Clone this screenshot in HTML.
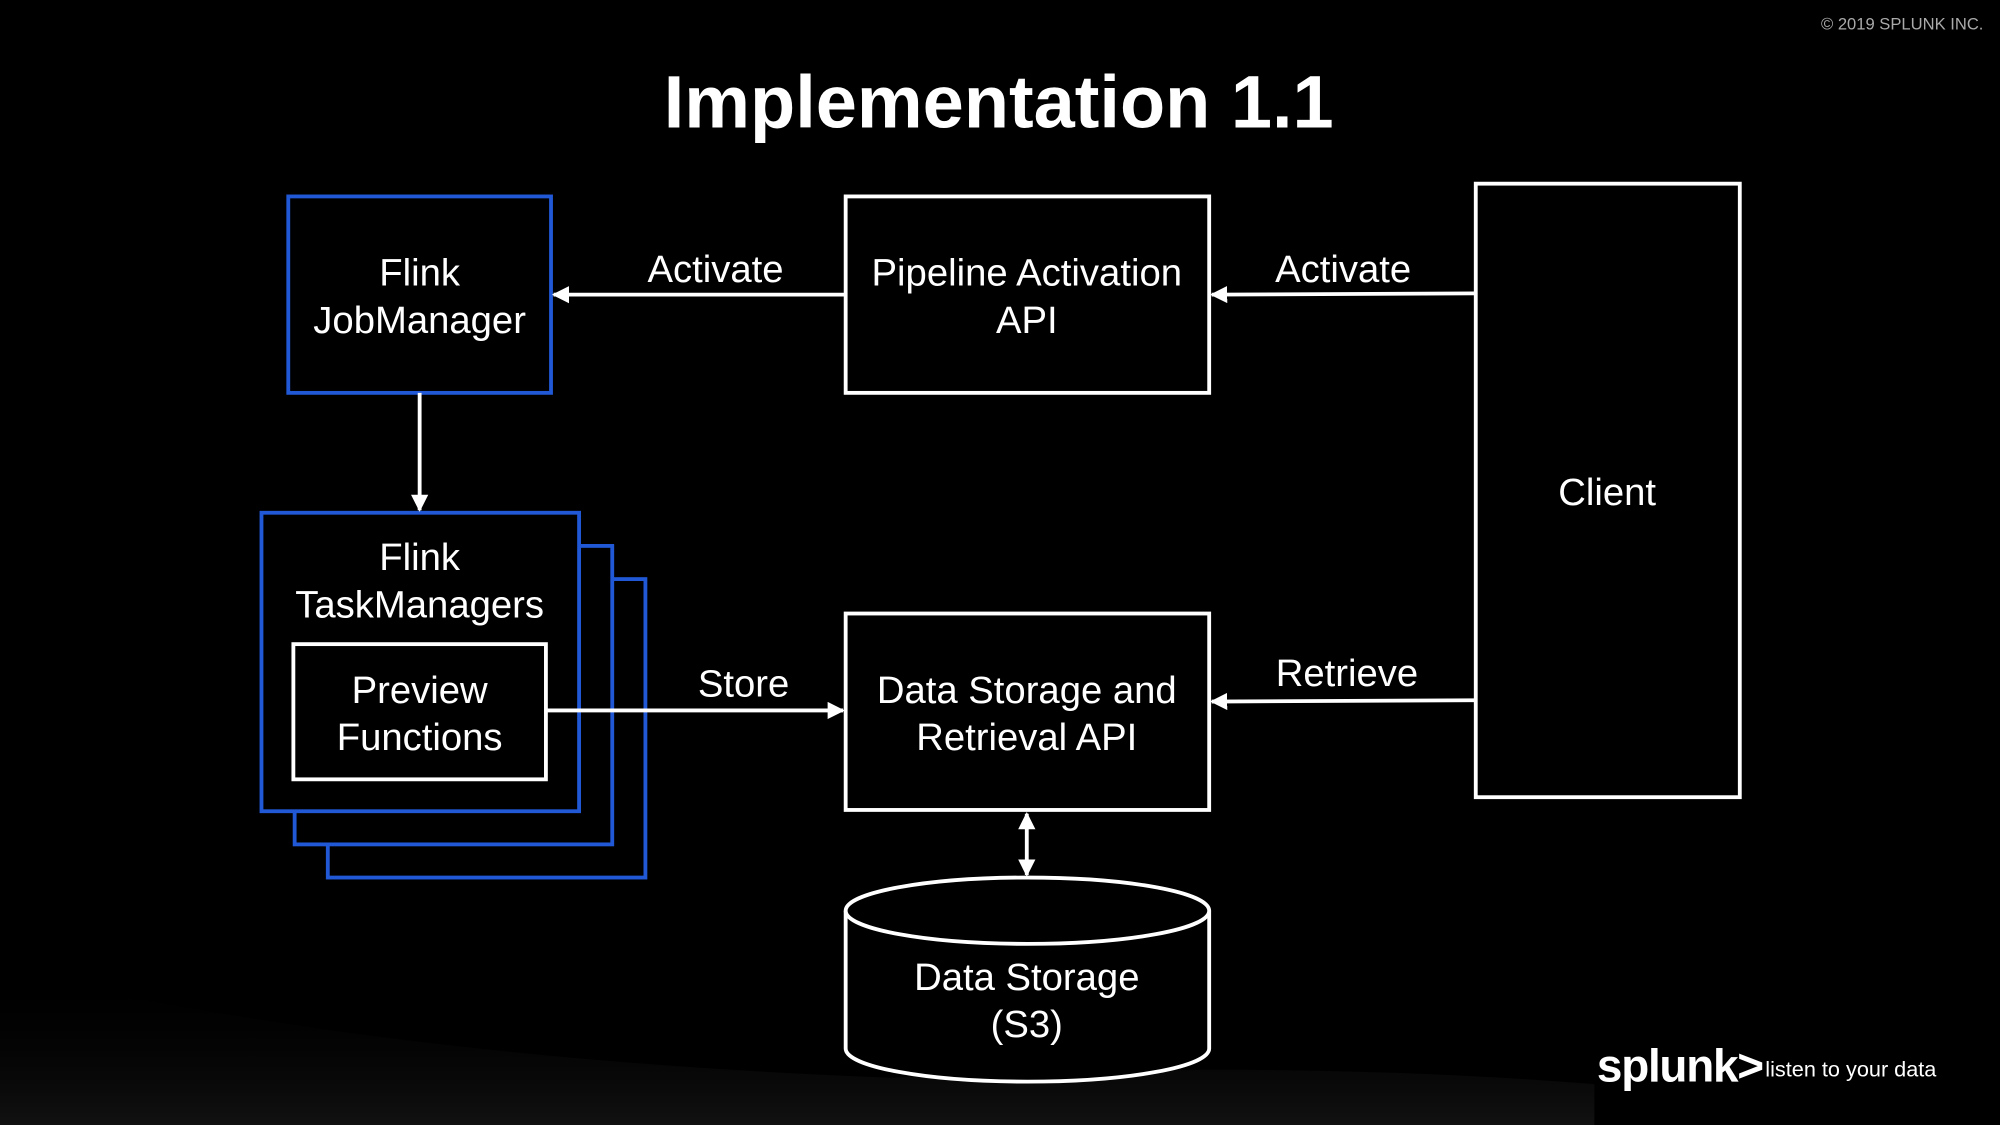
<!DOCTYPE html>
<html><head><meta charset="utf-8"><style>
html,body{margin:0;padding:0;background:#000;}
svg{display:block;}
text{font-family:"Liberation Sans",Arial,sans-serif;fill:#fff;}
</style></head><body>
<svg width="2000" height="1125" viewBox="0 0 1568 882" xmlns="http://www.w3.org/2000/svg">
<defs>
<marker id="a" viewBox="0 0 10 10" refX="9" refY="5" markerWidth="4.5" markerHeight="4.5" orient="auto-start-reverse"><path d="M0,0L10,5L0,10z" fill="#fff"/></marker>
<linearGradient id="g" x1="0" y1="0" x2="0" y2="1"><stop offset="0" stop-color="#000" stop-opacity="0"/><stop offset="1" stop-color="#444" stop-opacity="0.25"/></linearGradient>
</defs>
<rect width="1568" height="882" fill="#000"/>
<path d="M0,760 Q300,830 700,845 Q1000,830 1250,850 L1250,882 L0,882Z" fill="url(#g)"/>
<text x="1555" y="23" font-size="13" text-anchor="end" style="fill:#aaa">© 2019 SPLUNK INC.</text>
<text x="783" y="100" font-size="58" font-weight="bold" text-anchor="middle">Implementation 1.1</text>

<g fill="none" stroke-width="3">
<rect x="226" y="154" width="206" height="154" stroke="#2058d6"/>
<rect x="663" y="154" width="285" height="154" stroke="#fff"/>
<rect x="1157" y="144" width="207" height="481" stroke="#fff"/>
<rect x="257" y="454" width="249" height="234" stroke="#2058d6" fill="#000"/>
<rect x="231" y="428" width="249" height="234" stroke="#2058d6" fill="#000"/>
<rect x="205" y="402" width="249" height="234" stroke="#2058d6" fill="#000"/>
<rect x="230" y="505" width="198" height="106" stroke="#fff"/>
<rect x="663" y="481" width="285" height="154" stroke="#fff"/>
<path d="M663,714 L663,822 A142.5,26 0 0 0 948,822 L948,714" stroke="#fff" fill="#000"/>
<ellipse cx="805.5" cy="714" rx="142.5" ry="26" stroke="#fff" fill="#000"/>
</g>
<g stroke="#fff" stroke-width="3" fill="none">
<line x1="663" y1="231" x2="434" y2="231" marker-end="url(#a)"/>
<line x1="1157" y1="230" x2="950" y2="231" marker-end="url(#a)"/>
<line x1="329" y1="308" x2="329" y2="400" marker-end="url(#a)"/>
<line x1="428" y1="557" x2="661" y2="557" marker-end="url(#a)"/>
<line x1="1157" y1="549" x2="950" y2="550" marker-end="url(#a)"/>
<line x1="805" y1="638" x2="805" y2="686" marker-start="url(#a)" marker-end="url(#a)"/>
</g>
<g font-size="30" text-anchor="middle">
<text x="329" y="224">Flink</text><text x="329" y="261">JobManager</text>
<text x="805" y="224">Pipeline Activation</text><text x="805" y="261">API</text>
<text x="1260" y="396">Client</text>
<text x="329" y="447">Flink</text><text x="329" y="484">TaskManagers</text>
<text x="329" y="551">Preview</text><text x="329" y="588">Functions</text>
<text x="805" y="551">Data Storage and</text><text x="805" y="588">Retrieval API</text>
<text x="805" y="776">Data Storage</text><text x="805" y="813">(S3)</text>
<text x="561" y="221">Activate</text>
<text x="1053" y="221">Activate</text>
<text x="583" y="546">Store</text>
<text x="1056" y="538">Retrieve</text>
</g>
<text x="1252" y="848" font-size="36" font-weight="bold" letter-spacing="-1">splunk&gt;</text>
<text x="1384" y="844" font-size="17">listen to your data</text>
</svg>
</body></html>
